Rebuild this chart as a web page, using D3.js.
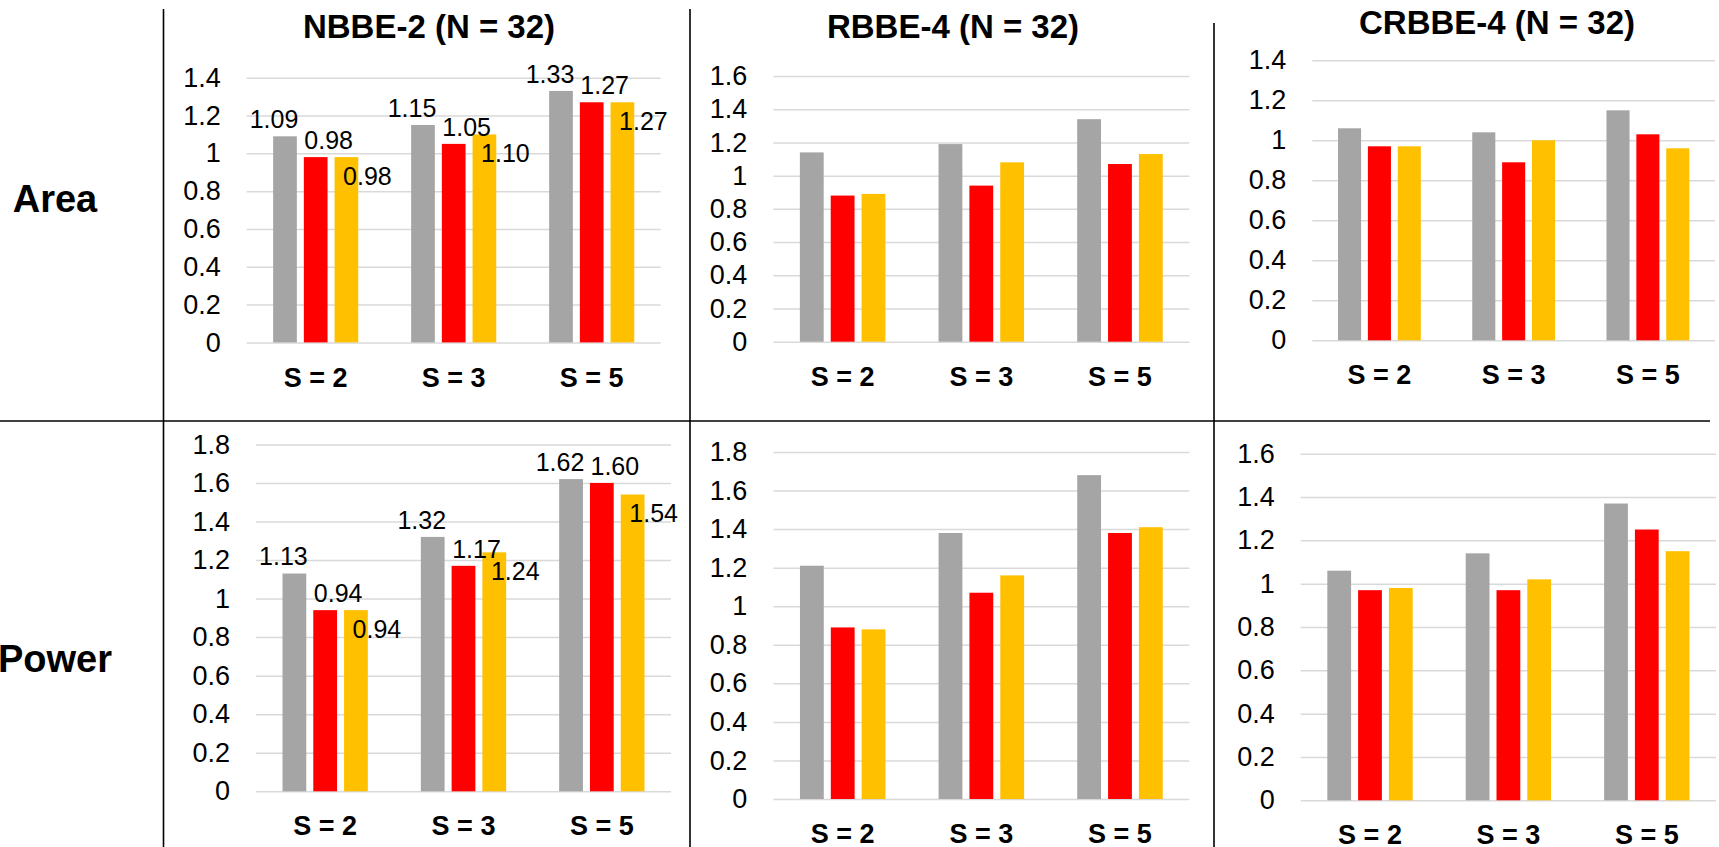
<!DOCTYPE html>
<html>
<head>
<meta charset="utf-8">
<script src="https://cdn.jsdelivr.net/npm/d3@7/dist/d3.min.js"></script>
<style>
  body { margin: 0; background: #fff; }
  text { font-family: "Liberation Sans", Arial, sans-serif; }
</style>
</head>
<body>
<div id="chart"></div>
<script>
// categories and series
const groups = ["S = 2", "S = 3", "S = 5"];
const seriesColors = ["#A5A5A5", "#FF0000", "#FFC000"];
const rowLabels = ["Area", "Power"];
const titles = ["NBBE-2 (N = 32)", "RBBE-4 (N = 32)", "CRBBE-4 (N = 32)"];

// values per group: [gray, red, yellow]
const areaNBBE = [[1.09, 0.98, 0.98], [1.15, 1.05, 1.10], [1.33, 1.27, 1.27]];
const areaRBBE = [[1.14, 0.88, 0.89], [1.19, 0.94, 1.08], [1.34, 1.07, 1.13]];
const areaCRBBE = [[1.06, 0.97, 0.97], [1.04, 0.89, 1.00], [1.15, 1.03, 0.96]];
const powerNBBE = [[1.13, 0.94, 0.94], [1.32, 1.17, 1.24], [1.62, 1.60, 1.54]];
const powerRBBE = [[1.21, 0.89, 0.88], [1.38, 1.07, 1.16], [1.68, 1.38, 1.41]];
const powerCRBBE = [[1.06, 0.97, 0.98], [1.14, 0.97, 1.02], [1.37, 1.25, 1.15]];

const yMaxes = [1.4, 1.6, 1.4, 1.8, 1.8, 1.6];

const width = 1719, height = 847;

const svg = d3.select("#chart").append("svg")
    .attr("width", width)
    .attr("height", height);

// plot boxes (grid area) for each panel
const panels = [
    {data: areaNBBE,   yMax: yMaxes[0], labels: true,  x0: 246.7,  x1: 660.7, yTop: 77.7,  yZero: 342.4},
    {data: areaRBBE,   yMax: yMaxes[1], labels: false, x0: 773.3,  x1: 1189.3, yTop: 76,   yZero: 341.7},
    {data: areaCRBBE,  yMax: yMaxes[2], labels: false, x0: 1312.3, x1: 1715,  yTop: 60.3,  yZero: 340.3},
    {data: powerNBBE,  yMax: yMaxes[3], labels: true,  x0: 256,    x1: 671,   yTop: 444.4, yZero: 791.3},
    {data: powerRBBE,  yMax: yMaxes[4], labels: false, x0: 773.4,  x1: 1189.3, yTop: 452,  yZero: 799},
    {data: powerCRBBE, yMax: yMaxes[5], labels: false, x0: 1300.8, x1: 1716,  yTop: 453.7, yZero: 800.3}
];

// where the data labels sit, relative to bar center / top
const labelShift = [{dx: -11, dy: -17}, {dx: 13, dy: -17}, {dx: 21, dy: 19}];

function drawPanel(p) {
    const g = svg.append("g");

    let x = d3.scaleBand()
        .domain(groups)
        .range([p.x0, p.x1]);

    let xs = d3.scaleBand()
        .domain(d3.range(seriesColors.length))
        .range([0, x.bandwidth()])
        .paddingInner(0.228)
        .paddingOuter(0.861);

    let y = d3.scaleLinear()
        .domain([0, p.yMax])
        .range([p.yZero, p.yTop]);

    let ticks = d3.range(0, Math.round(p.yMax / 0.2) + 1).map(i => +(i * 0.2).toFixed(1));

    // y axis with gridlines
    const yAxis = g.append("g")
        .attr("transform", "translate(" + p.x0 + ",0)")
        .call(d3.axisLeft(y)
            .tickValues(ticks)
            .tickSize(-(p.x1 - p.x0))
            .tickPadding(26)
            .tickFormat(d => String(d)));
    yAxis.select(".domain").remove();
    yAxis.selectAll(".tick line")
        .attr("stroke", "#D9D9D9")
        .attr("stroke-width", 1.5);
    yAxis.selectAll(".tick text")
        .attr("fill", "#000")
        .style("font-size", "27px")
        .style("font-family", "'Liberation Sans', Arial, sans-serif");

    // category axis
    const xAxis = g.append("g")
        .attr("transform", "translate(0," + p.yZero + ")")
        .call(d3.axisBottom(x).tickSize(0).tickPadding(25));
    xAxis.select(".domain").remove();
    xAxis.selectAll(".tick text")
        .attr("fill", "#000")
        .style("font-size", "27px")
        .style("font-weight", "bold")
        .style("font-family", "'Liberation Sans', Arial, sans-serif");

    // bars
    const grp = g.append("g")
        .selectAll("g")
        .data(p.data)
        .enter().append("g")
        .attr("transform", function(d, i) { return "translate(" + x(groups[i]) + ",0)"; });

    grp.selectAll("rect")
        .data(function(d) { return d; })
        .enter().append("rect")
        .attr("x", function(d, i) { return xs(i); })
        .attr("y", function(d) { return y(d); })
        .attr("width", xs.bandwidth())
        .attr("height", function(d) { return p.yZero - y(d); })
        .attr("fill", function(d, i) { return seriesColors[i]; });

    if (p.labels) {
        grp.selectAll("text.val")
            .data(function(d) { return d; })
            .enter().append("text")
            .attr("class", "val")
            .attr("x", function(d, i) { return xs(i) + xs.bandwidth() / 2 + labelShift[i].dx; })
            .attr("y", function(d, i) { return y(d) + labelShift[i].dy; })
            .attr("dy", "0.35em")
            .attr("text-anchor", "middle")
            .style("font-size", "25px")
            .attr("fill", "#000")
            .text(function(d) { return d.toFixed(2); });
    }
}

panels.forEach(drawPanel);

// column titles
const titlePos = [{x: 429, y: 26}, {x: 953, y: 26}, {x: 1497, y: 22}];
svg.selectAll("text.title")
    .data(titles)
    .enter().append("text")
    .attr("class", "title")
    .attr("x", (d, i) => titlePos[i].x)
    .attr("y", (d, i) => titlePos[i].y)
    .attr("dy", "0.36em")
    .attr("text-anchor", "middle")
    .style("font-size", "33px")
    .style("font-weight", "bold")
    .text(d => d);

// row labels
const rowY = [198, 658];
svg.selectAll("text.row")
    .data(rowLabels)
    .enter().append("text")
    .attr("class", "row")
    .attr("x", 55)
    .attr("y", (d, i) => rowY[i])
    .attr("dy", "0.36em")
    .attr("text-anchor", "middle")
    .style("font-size", "38px")
    .style("font-weight", "bold")
    .text(d => d);

// table lines
const lines = [
    {x1: 163.5, y1: 9, x2: 163.5, y2: height},
    {x1: 690, y1: 9, x2: 690, y2: height},
    {x1: 1214, y1: 23, x2: 1214, y2: height},
    {x1: 0, y1: 421, x2: 1710, y2: 421}
];
svg.selectAll("line.frame")
    .data(lines)
    .enter().append("line")
    .attr("class", "frame")
    .attr("x1", d => d.x1).attr("y1", d => d.y1)
    .attr("x2", d => d.x2).attr("y2", d => d.y2)
    .attr("stroke", "#000")
    .attr("stroke-width", 1.6);
</script>
</body>
</html>
